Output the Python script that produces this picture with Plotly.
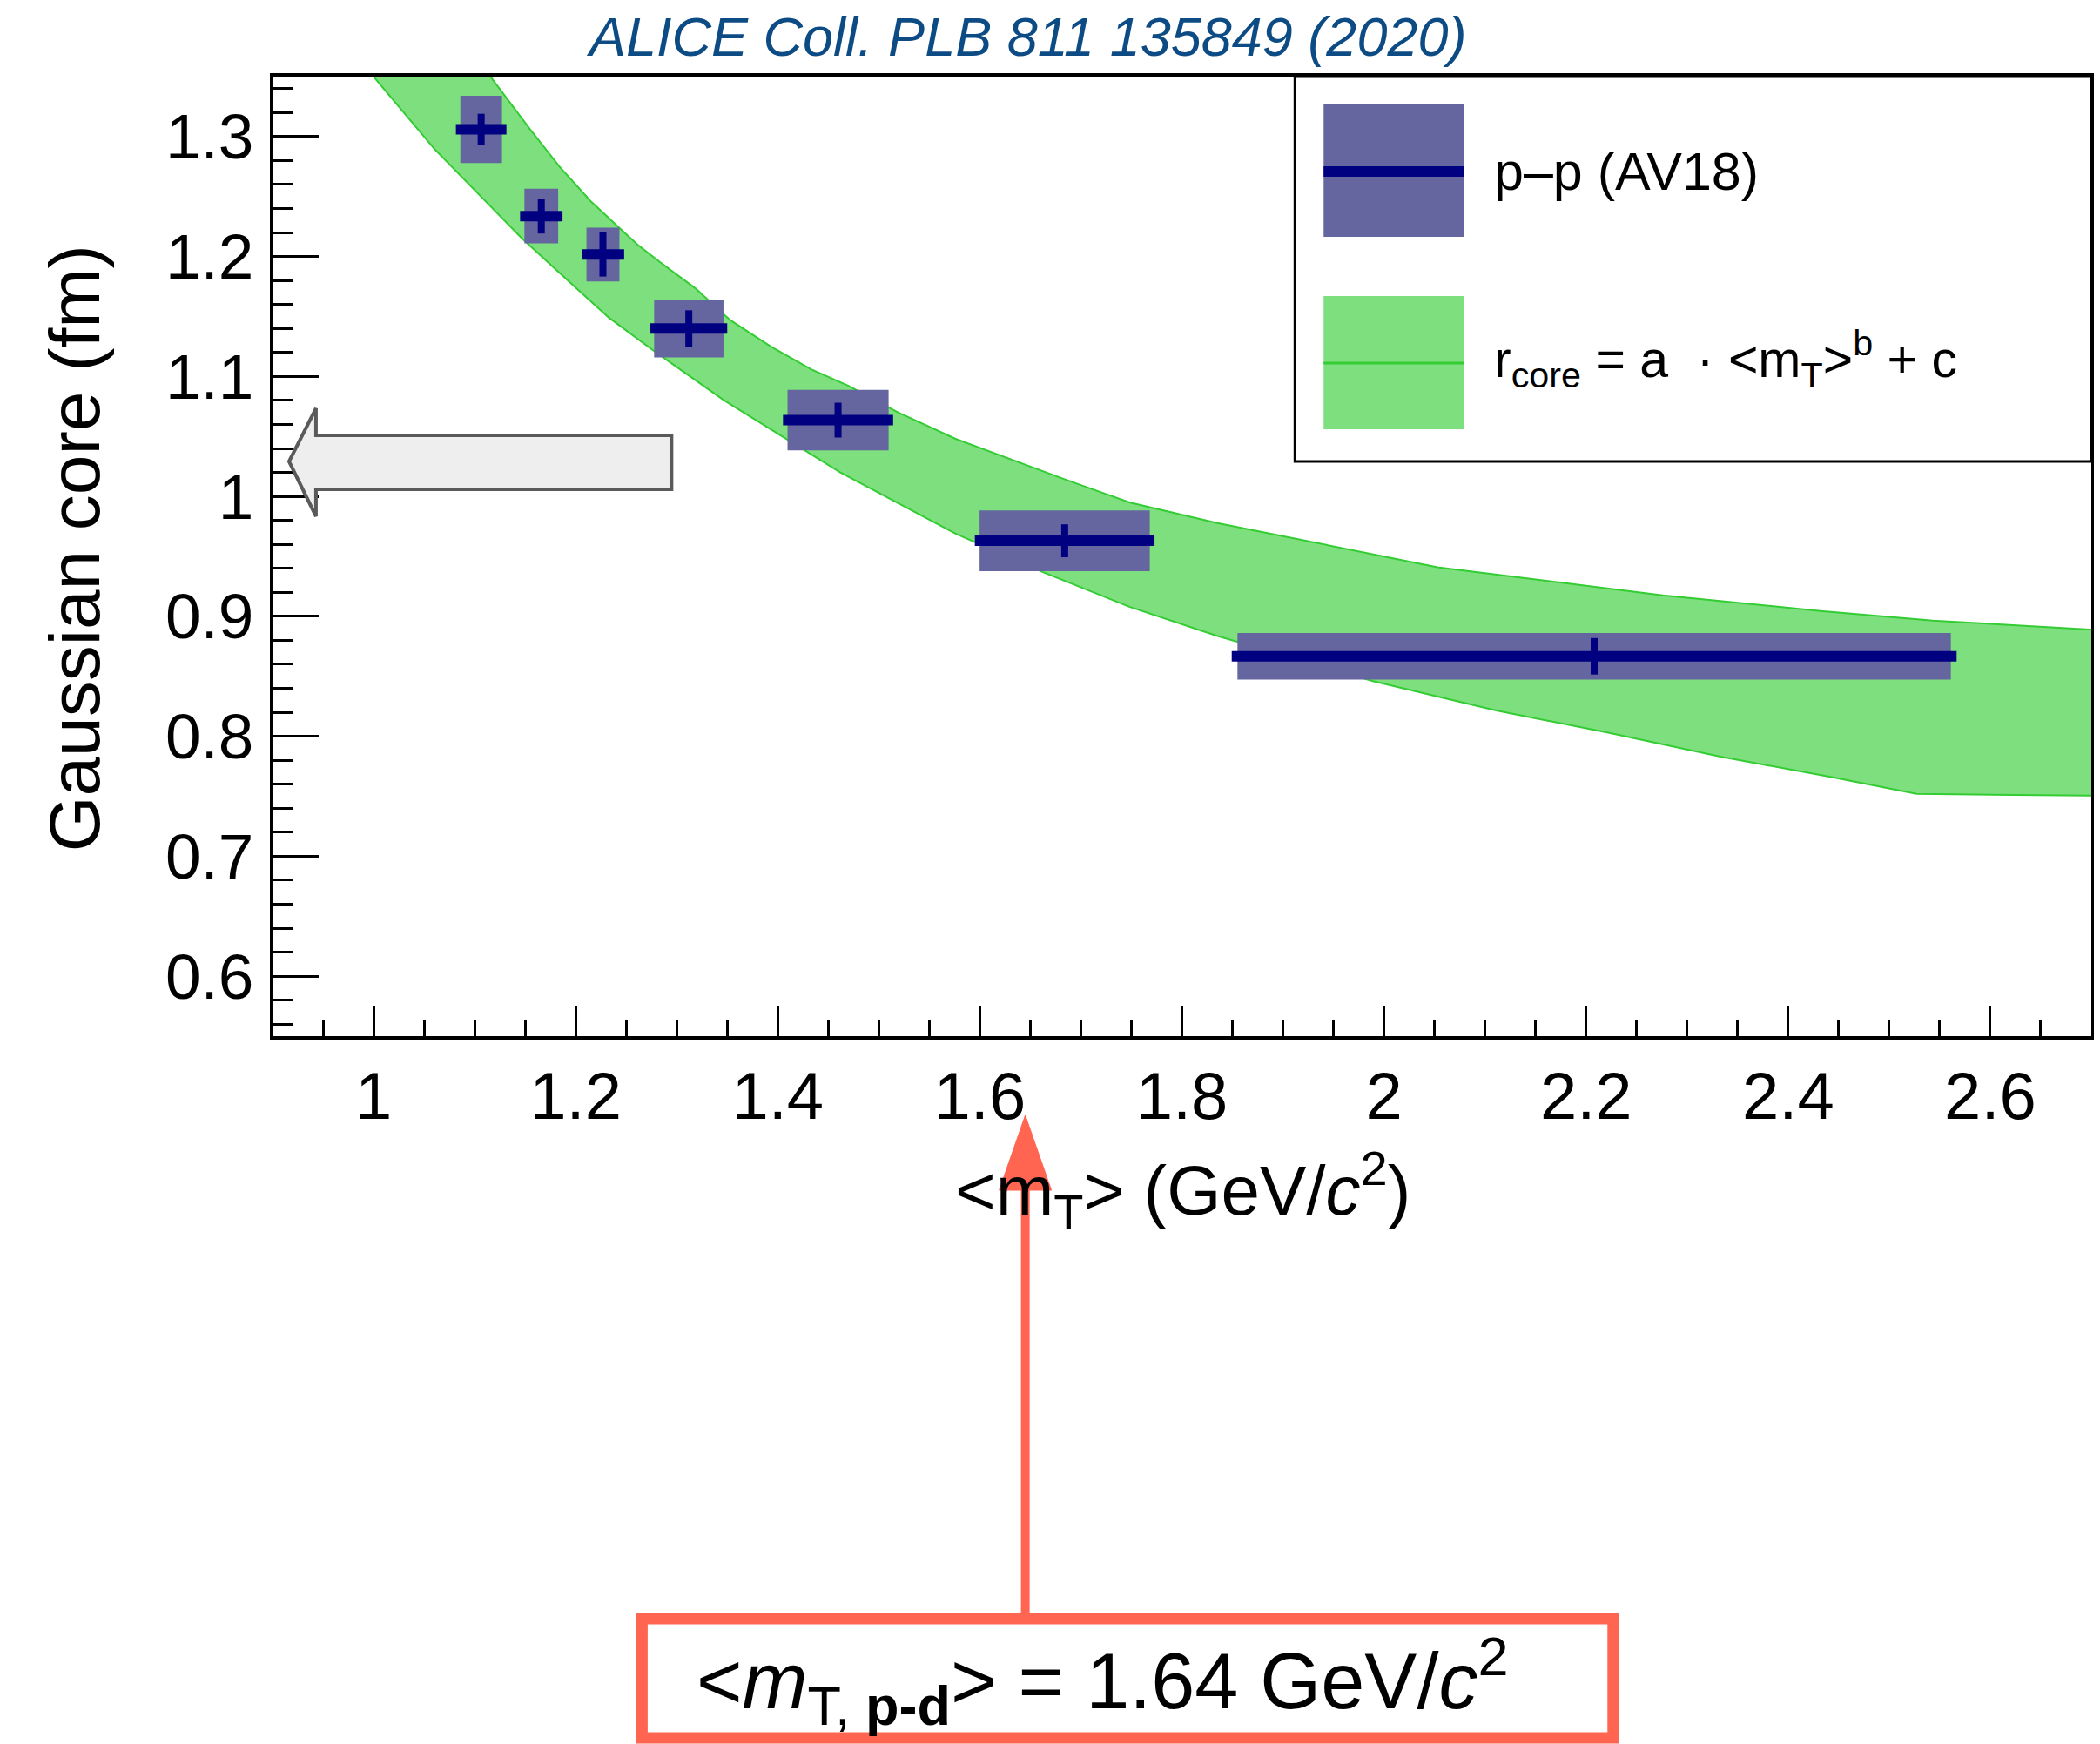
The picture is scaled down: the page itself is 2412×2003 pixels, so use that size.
import plotly.graph_objects as go

# ---------------- data ----------------
mT = [1.1065, 1.166, 1.227, 1.312, 1.4597, 1.684, 2.208]
r_core = [1.306, 1.2337, 1.2017, 1.140, 1.0636, 0.963, 0.8667]
mT_err = [0.025, 0.021, 0.021, 0.038, 0.0545, 0.0889, 0.3587]
stat_err = [0.013, 0.0145, 0.0184, 0.0152, 0.0145, 0.0137, 0.0152]
sys_err = [0.028, 0.0228, 0.0224, 0.0242, 0.0253, 0.0253, 0.0195]
sys_halfwidth = [0.0206, 0.0167, 0.0163, 0.0343, 0.050, 0.0842, 0.353]

band_up_x = [1.105, 1.1175, 1.155, 1.184, 1.215, 1.261, 1.284, 1.3185, 1.353, 1.393,
             1.433, 1.4705, 1.519, 1.576, 1.685, 1.748, 1.834, 2.053, 2.276, 2.432,
             2.543, 2.698, 2.72]
band_up_y = [1.362, 1.348, 1.306, 1.275, 1.246, 1.21, 1.195, 1.1735, 1.147, 1.125,
             1.106, 1.092, 1.070, 1.048, 1.014, 0.995, 0.978, 0.941, 0.9175, 0.9045,
             0.8965, 0.889, 0.889]
band_lo_x = [0.99, 1.0015, 1.061, 1.147, 1.204, 1.233, 1.278, 1.347, 1.405, 1.462,
             1.576, 1.662, 1.748, 1.834, 1.989, 2.111, 2.222, 2.333, 2.443, 2.527,
             2.698, 2.72]
band_lo_y = [1.36, 1.348, 1.289, 1.215, 1.171, 1.149, 1.121, 1.080, 1.050, 1.020,
             0.969, 0.937, 0.908, 0.884, 0.846, 0.8215, 0.803, 0.783, 0.766, 0.752,
             0.7505, 0.7505]

x_ticks = [1.0, 1.2, 1.4, 1.6, 1.8, 2.0, 2.2, 2.4, 2.6]
x_ticklabels = ["1", "1.2", "1.4", "1.6", "1.8", "2", "2.2", "2.4", "2.6"]
y_ticks = [0.6, 0.7, 0.8, 0.9, 1.0, 1.1, 1.2, 1.3]
y_ticklabels = ["0.6", "0.7", "0.8", "0.9", "1", "1.1", "1.2", "1.3"]

mT_pd = 1.645

# ---------------- layout geometry (pixels) ----------------
W, H = 2412, 2003
PL, PR, PT, PB = 313, 2405, 88, 1190
XR = [0.9, 2.7]
YR = [0.55, 1.35]


def pxx(p):
    return (p - PL) / (PR - PL)


def pxy(p):
    return (PB - p) / (PB - PT)


def data_to_px_x(v):
    return PL + (v - XR[0]) / (XR[1] - XR[0]) * (PR - PL)


FONT = "Liberation Sans, Arial, Helvetica, sans-serif"
NAVY = "#000080"
BOXCOL = "#65659f"
GREEN_FILL = "#7ddf7d"
GREEN_LINE = "#33cc33"
RED = "#ff6550"

fig = go.Figure()

# band
bx = band_up_x + band_lo_x[::-1]
by = band_up_y + band_lo_y[::-1]
fig.add_trace(go.Scatter(x=bx, y=by, fill="toself", fillcolor=GREEN_FILL,
                         mode="lines", line=dict(color=GREEN_LINE, width=2),
                         hoverinfo="skip", showlegend=False))

# systematic boxes
sx, sy = [], []
for xc, yc, hw, se in zip(mT, r_core, sys_halfwidth, sys_err):
    sx += [xc - hw, xc + hw, xc + hw, xc - hw, xc - hw, None]
    sy += [yc - se, yc - se, yc + se, yc + se, yc - se, None]
fig.add_trace(go.Scatter(x=sx, y=sy, fill="toself", fillcolor=BOXCOL,
                         mode="lines", line=dict(width=0, color=BOXCOL),
                         hoverinfo="skip", showlegend=False))

# points with stat errors
fig.add_trace(go.Scatter(
    x=mT, y=r_core, mode="markers",
    marker=dict(size=1, color=NAVY),
    error_x=dict(type="data", array=mT_err, color=NAVY, thickness=12, width=0),
    error_y=dict(type="data", array=stat_err, color=NAVY, thickness=8, width=0),
    showlegend=False))

shapes = []
annotations = []

# legend box
shapes.append(dict(type="rect", xref="paper", yref="paper",
                   x0=pxx(1489), x1=pxx(2405), y0=pxy(530), y1=pxy(88),
                   line=dict(color="black", width=3), fillcolor="white", layer="above"))
# legend swatch 1
shapes.append(dict(type="rect", xref="paper", yref="paper",
                   x0=pxx(1522), x1=pxx(1683), y0=pxy(272), y1=pxy(119),
                   line=dict(width=0), fillcolor=BOXCOL, layer="above"))
shapes.append(dict(type="line", xref="paper", yref="paper",
                   x0=pxx(1522), x1=pxx(1683), y0=pxy(197), y1=pxy(197),
                   line=dict(color=NAVY, width=12), layer="above"))
# legend swatch 2
shapes.append(dict(type="rect", xref="paper", yref="paper",
                   x0=pxx(1522), x1=pxx(1683), y0=pxy(493), y1=pxy(340),
                   line=dict(width=0), fillcolor=GREEN_FILL, layer="above"))
shapes.append(dict(type="line", xref="paper", yref="paper",
                   x0=pxx(1522), x1=pxx(1683), y0=pxy(417), y1=pxy(417),
                   line=dict(color=GREEN_LINE, width=3), layer="above"))
annotations.append(dict(xref="paper", yref="paper", x=pxx(1716), y=pxy(197),
                        xanchor="left", yanchor="middle", showarrow=False,
                        text="p–p (AV18)", font=dict(family=FONT, size=61, color="black")))
annotations.append(dict(xref="paper", yref="paper", x=pxx(1716), y=pxy(412),
                        xanchor="left", yanchor="middle", showarrow=False,
                        text="r<sub>core</sub> = a  · &lt;m<sub>T</sub>&gt;<sup>b</sup> + c",
                        font=dict(family=FONT, size=59, color="black")))

# grey hollow arrow
ap = [(332, 530), (363, 469), (363, 500), (772, 500), (772, 562), (363, 562), (363, 593)]
path = "M " + " L ".join(f"{pxx(a):.5f},{pxy(b):.5f}" for a, b in ap) + " Z"
shapes.append(dict(type="path", xref="paper", yref="paper", path=path,
                   fillcolor="#eeeeee", line=dict(color="#5a5a5a", width=4), layer="above"))

# red arrow to <mT,p-d>
ax_px = data_to_px_x(mT_pd)
shapes.append(dict(type="line", xref="paper", yref="paper",
                   x0=pxx(ax_px), x1=pxx(ax_px), y0=pxy(1855), y1=pxy(1360),
                   line=dict(color=RED, width=10), layer="above"))
hp = [(ax_px, 1281), (ax_px - 30, 1367), (ax_px + 30, 1367)]
hpath = "M " + " L ".join(f"{pxx(a):.5f},{pxy(b):.5f}" for a, b in hp) + " Z"
shapes.append(dict(type="path", xref="paper", yref="paper", path=hpath,
                   fillcolor=RED, line=dict(color=RED, width=1), layer="above"))
# red box
shapes.append(dict(type="rect", xref="paper", yref="paper",
                   x0=pxx(738), x1=pxx(1855), y0=pxy(1996), y1=pxy(1859),
                   line=dict(color=RED, width=13), fillcolor="white", layer="above"))
annotations.append(dict(xref="paper", yref="paper", x=pxx(1267), y=pxy(1930),
                        xanchor="center", yanchor="middle", showarrow=False,
                        text="&lt;<i>m</i><sub>T, <b>p-d</b></sub>&gt; = 1.64 GeV/<i>c</i><sup>2</sup>",
                        font=dict(family=FONT, size=90, color="black")))

# title
annotations.append(dict(xref="paper", yref="paper", x=pxx(1180), y=pxy(42),
                        xanchor="center", yanchor="middle", showarrow=False,
                        text="<i>ALICE Coll. PLB 811 135849 (2020)</i>",
                        font=dict(family=FONT, size=63, color="#0d4b84")))
# axis titles
annotations.append(dict(xref="paper", yref="paper", x=pxx(1360), y=pxy(1366),
                        xanchor="center", yanchor="middle", showarrow=False,
                        text="&lt;m<sub>T</sub>&gt; (GeV/<i>c</i><sup>2</sup>)",
                        font=dict(family=FONT, size=80, color="black")))
annotations.append(dict(xref="paper", yref="paper", x=pxx(85), y=pxy(630),
                        xanchor="center", yanchor="middle", showarrow=False, textangle=-90,
                        text="Gaussian core (fm)",
                        font=dict(family=FONT, size=82, color="black")))

fig.update_layout(
    width=W, height=H,
    margin=dict(l=PL, r=W - PR, t=PT, b=H - PB, pad=0),
    paper_bgcolor="white", plot_bgcolor="white",
    showlegend=False,
    shapes=shapes, annotations=annotations,
    xaxis=dict(range=XR, tickvals=x_ticks, ticktext=x_ticklabels,
               ticks="inside", ticklen=35, tickwidth=3, tickcolor="black",
               showline=True, linecolor="black", linewidth=4, mirror=True,
               showgrid=False, zeroline=False,
               tickfont=dict(family=FONT, size=76, color="black"),
               ticklabelstandoff=0,
               minor=dict(ticks="inside", ticklen=18, tickwidth=3, tickcolor="black",
                          dtick=0.05, tick0=0, showgrid=False)),
    yaxis=dict(range=YR, tickvals=y_ticks, ticktext=y_ticklabels,
               ticks="inside", ticklen=53, tickwidth=3, tickcolor="black",
               showline=True, linecolor="black", linewidth=3, mirror=True,
               showgrid=False, zeroline=False,
               tickfont=dict(family=FONT, size=73, color="black"),
               ticklabelstandoff=4,
               minor=dict(ticks="inside", ticklen=24, tickwidth=3, tickcolor="black",
                          dtick=0.02, tick0=0, showgrid=False)),
)

fig.write_html("out.html")
